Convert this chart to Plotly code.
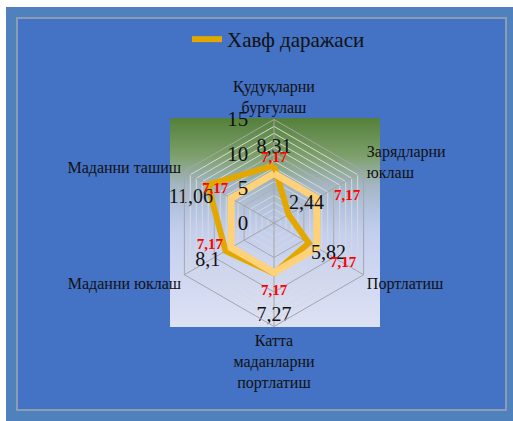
import plotly.graph_objects as go

# --- data -------------------------------------------------------------
categories = [
    "Қудуқларни бурғулаш",
    "Зарядларни юклаш",
    "Портлатиш",
    "Катта маданларни портлатиш",
    "Маданни юклаш",
    "Маданни ташиш",
]
category_labels = [
    "Қудуқларни<br>бурғулаш",
    "Зарядларни<br>юклаш",
    "Портлатиш",
    "Катта<br>маданларни<br>портлатиш",
    "Маданни юклаш",
    "Маданни ташиш",
]
risk_level = [8.31, 2.44, 5.82, 7.27, 8.1, 11.06]
reference_level = [7.17, 7.17, 7.17, 7.17, 7.17, 7.17]
radial_ticks = [0, 5, 10, 15]
series_name = "Хавф даражаси"

# --- layout helpers ---------------------------------------------------
W, H = 513, 421
FONT = "Liberation Serif"
GOLD = "#E3A800"
PEACH = "#FFD27A"


def px_x(v):
    return v / W


def px_y(v):
    return 1 - v / H


def fmt(v):
    return f"{v:g}".replace(".", ",")


def closed(vals):
    return list(vals) + [vals[0]]


# label placement: radial shift (axis units) and anchor for each point
risk_label_shift = [2.5, 3.0, 3.3, 6.2, 3.0, -0.85]
risk_label_pos = ["middle center", "middle center", "middle center",
                  "middle center", "middle center", "bottom left"]
ref_label_shift = [2.2, 2.87, 4.4, 2.7, 1.37, 2.7]
ref_label_pos = ["middle center", "bottom right", "middle center",
                 "middle center", "top left", "middle center"]

cx, cy, R = 274, 223, 103.5
dom_x = [px_x(cx - R), px_x(cx + R)]
dom_y = [px_y(cy + R), px_y(cy - R)]

fig = go.Figure()

# gradient panel behind the radar
fig.add_trace(go.Scatter(
    x=[0, 1, 1, 0, 0], y=[0, 0, 1, 1, 0],
    mode="none", fill="toself",
    fillgradient=dict(
        type="vertical", start=0, stop=1,
        colorscale=[[0, "#DDE1F3"], [0.45, "#C4CFEE"], [0.55, "#B5C4E2"],
                    [0.68, "#A3B6C2"], [0.82, "#7DA06B"], [1, "#53803A"]],
    ),
    hoverinfo="skip", showlegend=False, xaxis="x", yaxis="y",
))

# minor grid radar (establishes categories)
fig.add_trace(go.Scatterpolar(
    r=closed(risk_level), theta=closed(categories), mode="none",
    hoverinfo="skip", showlegend=False, subplot="polar",
))

# main series
fig.add_trace(go.Scatterpolar(
    r=closed(risk_level), theta=closed(categories), mode="lines",
    name=series_name, line=dict(color=GOLD, width=6),
    subplot="polar2",
))
fig.add_trace(go.Scatterpolar(
    r=closed(reference_level), theta=closed(categories), mode="lines",
    line=dict(color=PEACH, width=7), showlegend=False,
    subplot="polar2",
))

# value labels
fig.add_trace(go.Scatterpolar(
    r=[v + d for v, d in zip(risk_level, risk_label_shift)],
    theta=categories, mode="text",
    text=[fmt(v) for v in risk_level], textposition=risk_label_pos,
    textfont=dict(family=FONT, size=20, color="#111111"),
    showlegend=False, hoverinfo="skip", subplot="polar2",
))
fig.add_trace(go.Scatterpolar(
    r=[v + d for v, d in zip(reference_level, ref_label_shift)],
    theta=categories, mode="text",
    text=[f"<b>{fmt(v)}</b>" for v in reference_level],
    textposition=ref_label_pos,
    textfont=dict(family=FONT, size=15, color="#FF0000"),
    showlegend=False, hoverinfo="skip", subplot="polar2",
))

common_angular = dict(
    type="category", categoryarray=categories, rotation=90,
    direction="clockwise",
)

fig.update_layout(
    width=W, height=H,
    margin=dict(l=0, r=0, t=0, b=0),
    paper_bgcolor="white", plot_bgcolor="rgba(0,0,0,0)",
    font=dict(family=FONT, color="#111111"),
    xaxis=dict(domain=[px_x(170), px_x(380)], range=[0, 1], visible=False,
               fixedrange=True),
    yaxis=dict(domain=[px_y(327), px_y(118)], range=[0, 1], visible=False,
               fixedrange=True),
    polar=dict(
        domain=dict(x=dom_x, y=dom_y), gridshape="linear",
        bgcolor="rgba(0,0,0,0)",
        radialaxis=dict(range=[0, 15], tickmode="array",
                        tickvals=list(range(0, 16)), showticklabels=False,
                        ticks="", gridcolor="#D9D9D9", gridwidth=1,
                        showline=False, angle=90),
        angularaxis=dict(**common_angular, showticklabels=False,
                         showgrid=False, showline=False, ticks=""),
    ),
    polar2=dict(
        domain=dict(x=dom_x, y=dom_y), gridshape="linear",
        bgcolor="rgba(0,0,0,0)",
        radialaxis=dict(range=[0, 15], tickmode="array",
                        tickvals=radial_ticks, showticklabels=True,
                        tickangle=90,
                        ticks="outside", ticklen=18,
                        tickcolor="rgba(0,0,0,0)",
                        tickfont=dict(family=FONT, size=21, color="#111111"),
                        gridcolor="#A6A6A6", gridwidth=1,
                        showline=False, angle=90, side="counterclockwise"),
        angularaxis=dict(**common_angular, tickmode="array",
                         tickvals=categories, ticktext=category_labels,
                         tickfont=dict(family=FONT, size=16, color="#111111"),
                         showgrid=True, gridcolor="#A6A6A6",
                         showline=True, linecolor="#A6A6A6", linewidth=1,
                         ticks=""),
    ),
    legend=dict(
        x=px_x(187), y=px_y(19), xanchor="left", yanchor="top",
        orientation="h", bgcolor="rgba(0,0,0,0)",
        font=dict(family=FONT, size=21, color="#111111"),
    ),
    shapes=[
        dict(type="rect", xref="paper", yref="paper", layer="below",
             x0=px_x(6), x1=1, y0=0, y1=px_y(7),
             fillcolor="#4F81BD", line=dict(width=0)),
        dict(type="rect", xref="paper", yref="paper", layer="below",
             x0=px_x(17), x1=px_x(506), y0=px_y(410), y1=px_y(18),
             fillcolor="#4472C4", line=dict(color="#8E9BB5", width=2)),
    ],
)

fig.write_html("out.html")
